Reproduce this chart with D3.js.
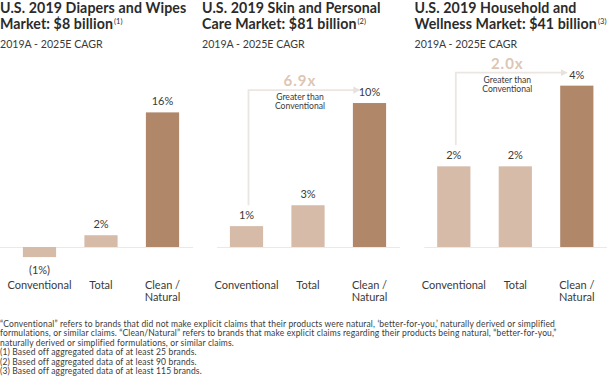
<!DOCTYPE html>
<html><head><meta charset="utf-8">
<script src="https://cdn.jsdelivr.net/npm/d3@7"></script>
<style>
html,body{margin:0;padding:0;background:#fff;}
svg{display:block;font-family:Lato, "Open Sans", sans-serif;}
</style></head>
<body><svg id="chart" width="607" height="379"></svg>
<script>
// ---- data ----
const categories = ["Conventional", "Total", "Clean / Natural"];
const panelTitles = [
  ["U.S. 2019 Diapers and Wipes", "Market: $8 billion"],
  ["U.S. 2019 Skin and Personal", "Care Market: $81 billion"],
  ["U.S. 2019 Household and", "Wellness Market: $41 billion"]
];
const titleNotes = ["(1)", "(2)", "(3)"];
const subtitle = "2019A - 2025E CAGR";
const diapersValues = [-1.2, 1.4, 16];
const skinValues = [1.45, 2.9, 10];
const householdValues = [2.0, 2.0, 4.0];
const diapersLabels = ["(1%)", "2%", "16%"];
const skinLabels = ["1%", "3%", "10%"];
const householdLabels = ["2%", "2%", "4%"];
const multipliers = [null, "6.9x", "2.0x"];
const multiplierNote = ["Greater than", "Conventional"];
const footnotes = [
  "\u201CConventional\u201D refers to brands that did not make explicit claims that their products were natural, \u2018better-for-you,\u2019 naturally derived or simplified",
  "formulations, or similar claims. \u201CClean/Natural\u201D refers to brands that make explicit claims regarding their products being natural, \u201Cbetter-for-you,\u201D",
  "naturally derived or simplified formulations, or similar claims.",
  "(1) Based off aggregated data of at least 25 brands.",
  "(2) Based off aggregated data of at least 90 brands.",
  "(3) Based off aggregated data of at least 115 brands."
];

// ---- layout / style ----
const seriesValues = [diapersValues, skinValues, householdValues];
const seriesLabels = [diapersLabels, skinLabels, householdLabels];
const domainMax = [19.85, 11.6, 4.14];
const panelX = [0, 207, 414.3];
const titleX = [0, 202, 414.5];
const baseY = 247, topY = 80;
const lightColor = "#d5bba8", darkColor = "#b08769";
const textColor = "#3a3a3a";

const svg = d3.select("#chart");
svg.append("defs").append("marker")
  .attr("id", "arrow").attr("viewBox", "0 0 10 10")
  .attr("refX", 5).attr("refY", 5)
  .attr("markerWidth", 4).attr("markerHeight", 4)
  .attr("orient", "auto")
  .append("path").attr("d", "M0,0 L10,5 L0,10 z").attr("fill", "#e8e2dc");

seriesValues.forEach((vals, p) => {
  const g = svg.append("g").attr("transform", `translate(${panelX[p]},0)`);
  const x = d3.scaleBand().domain(categories).range([8.75, 193.25])
    .paddingInner(0.46).paddingOuter(0.23);
  const y = d3.scaleLinear().domain([0, domainMax[p]]).range([baseY, topY]);

  // title
  const tg = svg.append("g").attr("transform", `translate(${titleX[p]},0)`);
  tg.append("text").attr("x", 0).attr("y", 13.2)
    .attr("font-weight", 700).attr("font-size", 14.2)
    .attr("fill", "#2b2b2b").attr("letter-spacing", 0.1).text(panelTitles[p][0]);
  const t2 = tg.append("text").attr("x", 0).attr("y", 28.8)
    .attr("font-weight", 700).attr("font-size", 14.2)
    .attr("fill", "#2b2b2b").attr("letter-spacing", 0.1);
  t2.append("tspan").text(panelTitles[p][1]);
  t2.append("tspan").attr("font-size", 7.5).attr("font-weight", 400)
    .attr("dy", -5).attr("dx", 1).text(titleNotes[p]);
  tg.append("text").attr("x", 0).attr("y", 48.3).attr("font-size", 10.6)
    .attr("fill", textColor).text(subtitle);

  // baseline
  g.append("line").attr("x1", p === 0 ? 0 : 10).attr("x2", 193)
    .attr("y1", y(0) + 0.5).attr("y2", y(0) + 0.5)
    .attr("stroke", "#ece8e4").attr("stroke-width", 1);

  // bars
  g.selectAll("rect.bar").data(vals).join("rect").attr("class", "bar")
    .attr("x", (d, i) => x(categories[i]))
    .attr("width", x.bandwidth())
    .attr("y", d => Math.min(y(d), y(0)))
    .attr("height", d => Math.abs(y(d) - y(0)))
    .attr("fill", (d, i) => i === 2 ? darkColor : lightColor);

  // value labels
  g.selectAll("text.val").data(vals).join("text").attr("class", "val")
    .attr("x", (d, i) => x(categories[i]) + x.bandwidth() / 2)
    .attr("y", d => d >= 0 ? y(d) - 7 : y(d) + 17)
    .attr("text-anchor", "middle").attr("font-size", 11).attr("fill", textColor)
    .text((d, i) => seriesLabels[p][i]);

  // category labels
  categories.forEach(c => {
    const parts = c.split(" / ");
    const tt = g.append("text").attr("text-anchor", "middle").attr("font-size", 11)
      .attr("fill", textColor);
    parts.forEach((s, k) => {
      tt.append("tspan").attr("x", x(c) + x.bandwidth() / 2)
        .attr("y", 289 + k * 12).text(parts.length > 1 && k === 0 ? s + " /" : s);
    });
  });

  // multiplier arrow
  if (multipliers[p]) {
    const convTop = y(vals[0]);
    const cleanTop = y(vals[2]);
    const xa = x(categories[0]) + x.bandwidth() / 2 + 2;
    const ya = cleanTop - 13;
    const xb = x(categories[2]) + 4;
    g.append("path")
      .attr("d", `M${xa},${convTop - 21} L${xa},${ya} L${xb},${ya}`)
      .attr("fill", "none").attr("stroke", "#ebe6e1").attr("stroke-width", 1.8)
      .attr("marker-end", "url(#arrow)");
    const cx = x(categories[1]) + x.bandwidth() / 2 - 8;
    g.append("text").attr("x", cx).attr("y", ya - 4).attr("text-anchor", "middle")
      .attr("font-size", 15).attr("font-weight", 700).attr("fill", "#dcc6b4")
      .attr("letter-spacing", 1).text(multipliers[p]);
    multiplierNote.forEach((s, k) => {
      g.append("text").attr("x", cx).attr("y", ya + 10 + k * 9)
        .attr("text-anchor", "middle").attr("font-size", 8.6).attr("fill", textColor)
        .text(s);
    });
  }
});

// footnotes
svg.append("g").selectAll("text").data(footnotes).join("text")
  .attr("x", 0).attr("y", (d, i) => 326.5 + i * 9.5)
  .attr("font-size", 8.5).attr("letter-spacing", 0.15)
  .attr("fill", "#3a3a3a").text(d => d);
</script></body></html>
